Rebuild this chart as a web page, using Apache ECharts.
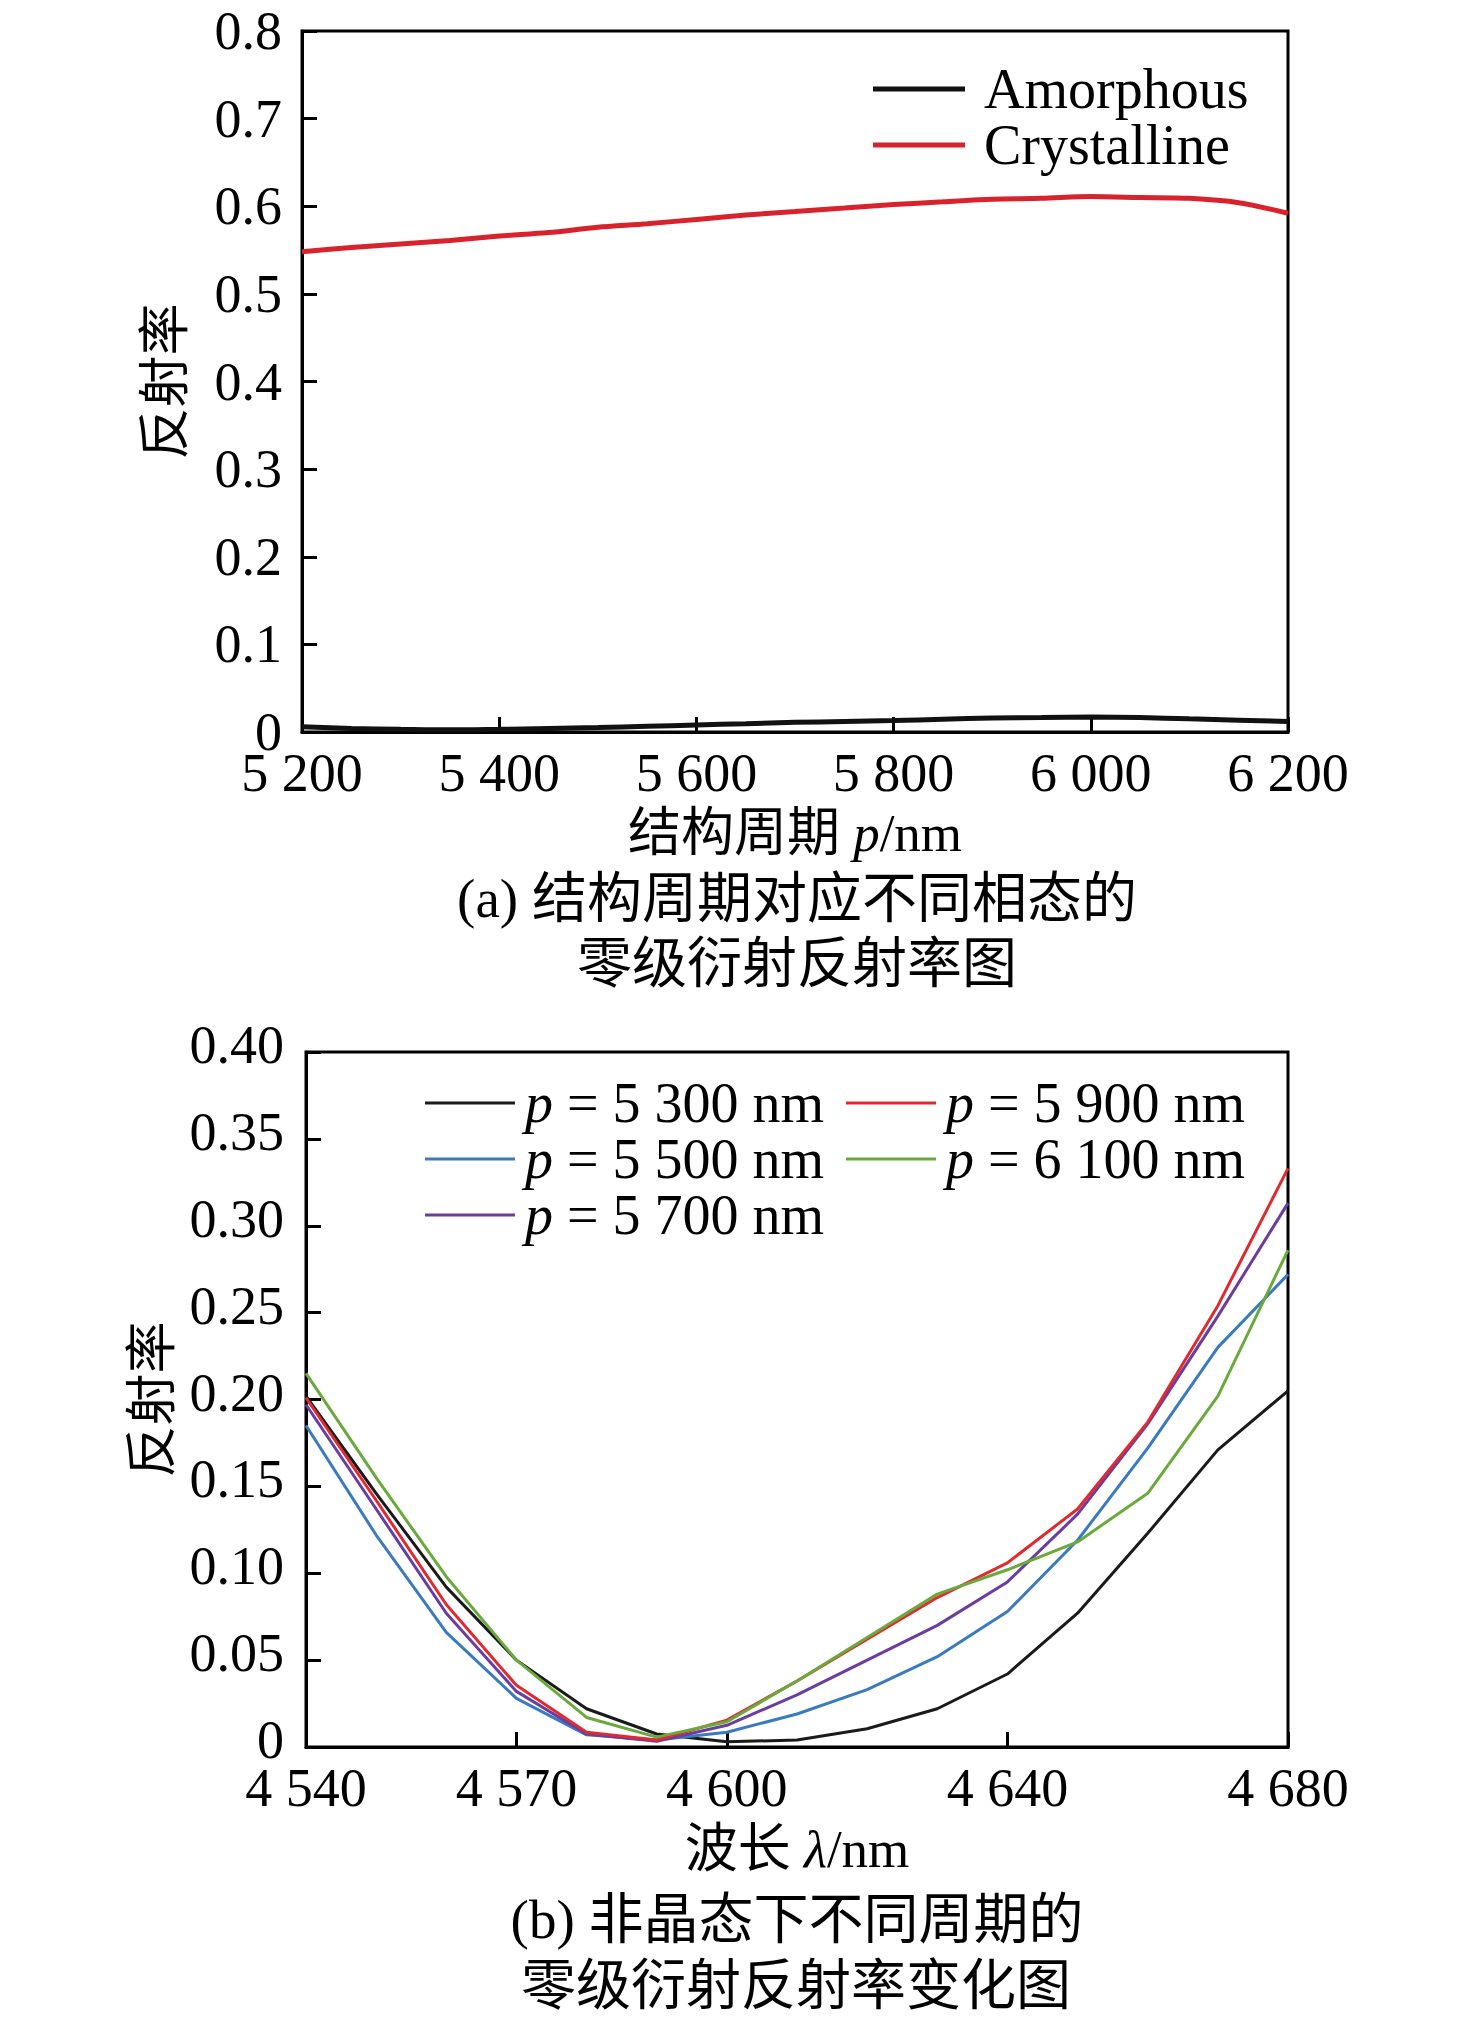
<!DOCTYPE html>
<html>
<head>
<meta charset="utf-8">
<script src="https://cdn.jsdelivr.net/npm/echarts@6/dist/echarts.min.js"></script>
<style>
html,body{margin:0;padding:0;background:#fff;}
#chart{width:1476px;height:2017px;}
</style>
</head>
<body>
<div id="chart"></div>
<script>
// ---------- Data: chart (a) ----------
const periodA = [5200,5250,5300,5350,5400,5450,5500,5550,5600,5650,5700,5750,5800,5850,5900,5950,6000,6050,6100,6150,6200];
const amorphous = [0.006,0.004,0.003,0.0025,0.003,0.004,0.005,0.0065,0.008,0.0095,0.011,0.012,0.013,0.0145,0.016,0.0165,0.017,0.0165,0.015,0.0135,0.012];
const crystalline = [0.548,0.553,0.557,0.561,0.566,0.570,0.576,0.580,0.585,0.590,0.594,0.598,0.602,0.605,0.608,0.609,0.611,0.610,0.609,0.604,0.592];

// ---------- Data: chart (b) ----------
const wavelengthB = [4540,4550,4560,4570,4580,4590,4600,4610,4620,4630,4640,4650,4660,4670,4680];
const p5300 = [0.202,0.146,0.092,0.050,0.022,0.0075,0.003,0.004,0.0105,0.022,0.042,0.077,0.123,0.171,0.205];
const p5500 = [0.185,0.122,0.066,0.028,0.007,0.004,0.0085,0.019,0.033,0.052,0.078,0.119,0.172,0.230,0.272];
const p5700 = [0.197,0.137,0.077,0.032,0.0075,0.0033,0.0125,0.030,0.050,0.070,0.095,0.134,0.186,0.248,0.313];
const p5900 = [0.201,0.142,0.082,0.0355,0.0085,0.004,0.0155,0.038,0.062,0.086,0.106,0.137,0.187,0.254,0.333];
const p6100 = [0.215,0.155,0.098,0.050,0.017,0.0057,0.0145,0.038,0.063,0.088,0.102,0.118,0.146,0.202,0.286];
const xTicksB = [4540,4570,4600,4640,4680];

const FONT = "'Liberation Serif','Noto Sans CJK SC',serif";
const pairs = (xs, ys) => xs.map((x, i) => [x, ys[i]]);
const thou = v => { const s = String(Math.round(v)); return s.length > 3 ? s.slice(0, s.length-3) + ' ' + s.slice(-3) : s; };

const chart = echarts.init(document.getElementById('chart'), null, {renderer: 'svg'});

const axisLineStyle = {show: true, onZero: false, lineStyle: {color: '#000', width: 3}};
const tickStyle = {show: true, inside: true, length: 15, lineStyle: {color: '#000', width: 3}};
const labelBase = {color: '#000', fontFamily: FONT, fontSize: 54};

const legendB = (names, left) => ({
  data: names, orient: 'vertical', left: left, top: 1075, padding: 0,
  icon: 'rect', itemWidth: 90, itemHeight: 3, itemGap: 0, selectedMode: false,
  formatter: n => '{i|p}{t|' + n.slice(1) + '}',
  textStyle: {color: '#000', rich: {
    i: {fontFamily: FONT, fontSize: 56, fontStyle: 'italic', color: '#000', lineHeight: 52, padding: [0, 0, 0, 5]},
    t: {fontFamily: FONT, fontSize: 56, color: '#000', lineHeight: 52}
  }}
});

const option = {
  animation: false,
  backgroundColor: '#fff',
  grid: [
    {left: 302, top: 31, width: 986, height: 701, show: true, borderColor: '#000', borderWidth: 3, outerBoundsMode: 'none', containLabel: false},
    {left: 306, top: 1052, width: 982, height: 695, show: true, borderColor: '#000', borderWidth: 3, outerBoundsMode: 'none', containLabel: false}
  ],
  xAxis: [
    {
      type: 'value', gridIndex: 0, min: 5200, max: 6200, interval: 200,
      axisLine: axisLineStyle, axisTick: tickStyle, splitLine: {show: false},
      axisLabel: Object.assign({}, labelBase, {margin: 14, formatter: v => thou(v)}),
      name: '{c|结构周期 }{i|p}{c|/nm}', nameLocation: 'middle', nameGap: 75,
      nameTextStyle: {rich: {
        c: {fontFamily: FONT, fontSize: 53, color: '#000', lineHeight: 52},
        i: {fontFamily: FONT, fontSize: 53, fontStyle: 'italic', color: '#000', lineHeight: 52}
      }}
    },
    {
      type: 'value', gridIndex: 1, min: 4540, max: 4680,
      axisLine: axisLineStyle,
      axisTick: Object.assign({}, tickStyle, {customValues: xTicksB}),
      splitLine: {show: false},
      axisLabel: Object.assign({}, labelBase, {margin: 14, customValues: xTicksB, formatter: v => thou(v)}),
      name: '{c|波长 }{i|λ}{c|/nm}', nameLocation: 'middle', nameGap: 76,
      nameTextStyle: {rich: {
        c: {fontFamily: FONT, fontSize: 53, color: '#000', lineHeight: 52},
        i: {fontFamily: FONT, fontSize: 53, fontStyle: 'italic', color: '#000', lineHeight: 52}
      }}
    }
  ],
  yAxis: [
    {
      type: 'value', gridIndex: 0, min: 0, max: 0.8, interval: 0.1,
      axisLine: axisLineStyle, axisTick: tickStyle, splitLine: {show: false},
      axisLabel: Object.assign({}, labelBase, {margin: 20, formatter: v => v === 0 ? '0' : v.toFixed(1)}),
      name: '反射率', nameLocation: 'middle', nameGap: 111, nameRotate: 90,
      nameTextStyle: {fontFamily: FONT, fontSize: 52, color: '#000'}
    },
    {
      type: 'value', gridIndex: 1, min: 0, max: 0.4, interval: 0.05,
      axisLine: axisLineStyle, axisTick: tickStyle, splitLine: {show: false},
      axisLabel: {margin: 22, formatter: v => '{n|' + (v === 0 ? '0' : v.toFixed(2)) + '}',
        rich: {n: {color: '#000', fontFamily: FONT, fontSize: 54, padding: [0, 0, 14, 0]}}},
      name: '反射率', nameLocation: 'middle', nameGap: 128, nameRotate: 90,
      nameTextStyle: {fontFamily: FONT, fontSize: 52, color: '#000'}
    }
  ],
  legend: [
    {
      data: ['Amorphous', 'Crystalline'], orient: 'vertical', left: 873, top: 61, padding: 0,
      icon: 'rect', itemWidth: 92, itemHeight: 5, itemGap: 0, selectedMode: false,
      formatter: n => '{t|' + n + '}',
      textStyle: {color: '#000', rich: {
        t: {fontFamily: FONT, fontSize: 56, color: '#000', lineHeight: 54, padding: [0, 0, 0, 14]}
      }}
    },
    legendB(['p = 5 300 nm', 'p = 5 500 nm', 'p = 5 700 nm'], 425),
    legendB(['p = 5 900 nm', 'p = 6 100 nm'], 846)
  ],
  series: [
    {name: 'Amorphous', type: 'line', xAxisIndex: 0, yAxisIndex: 0, data: pairs(periodA, amorphous),
      symbol: 'none', smooth: 0.3, color: '#111111', lineStyle: {width: 5, color: '#111111'}},
    {name: 'Crystalline', type: 'line', xAxisIndex: 0, yAxisIndex: 0, data: pairs(periodA, crystalline),
      symbol: 'none', smooth: 0.3, color: '#d8232c', lineStyle: {width: 5, color: '#d8232c'}},
    {name: 'p = 5 300 nm', type: 'line', xAxisIndex: 1, yAxisIndex: 1, data: pairs(wavelengthB, p5300),
      symbol: 'none', color: '#1a1a1a', lineStyle: {width: 3, color: '#1a1a1a'}},
    {name: 'p = 5 500 nm', type: 'line', xAxisIndex: 1, yAxisIndex: 1, data: pairs(wavelengthB, p5500),
      symbol: 'none', color: '#3a7bbf', lineStyle: {width: 3, color: '#3a7bbf'}},
    {name: 'p = 5 700 nm', type: 'line', xAxisIndex: 1, yAxisIndex: 1, data: pairs(wavelengthB, p5700),
      symbol: 'none', color: '#6a3d9e', lineStyle: {width: 3, color: '#6a3d9e'}},
    {name: 'p = 5 900 nm', type: 'line', xAxisIndex: 1, yAxisIndex: 1, data: pairs(wavelengthB, p5900),
      symbol: 'none', color: '#e02a30', lineStyle: {width: 3, color: '#e02a30'}},
    {name: 'p = 6 100 nm', type: 'line', xAxisIndex: 1, yAxisIndex: 1, data: pairs(wavelengthB, p6100),
      symbol: 'none', color: '#6aaa3c', lineStyle: {width: 3, color: '#6aaa3c'}}
  ],
  graphic: [
    {type: 'text', x: 797, y: 898, style: {text: '(a) 结构周期对应不同相态的', fontFamily: FONT, fontSize: 55, fill: '#000', align: 'center', verticalAlign: 'middle'}},
    {type: 'text', x: 797, y: 963, style: {text: '零级衍射反射率图', fontFamily: FONT, fontSize: 55, fill: '#000', align: 'center', verticalAlign: 'middle'}},
    {type: 'text', x: 797, y: 1919, style: {text: '(b) 非晶态下不同周期的', fontFamily: FONT, fontSize: 55, fill: '#000', align: 'center', verticalAlign: 'middle'}},
    {type: 'text', x: 796, y: 1985, style: {text: '零级衍射反射率变化图', fontFamily: FONT, fontSize: 55, fill: '#000', align: 'center', verticalAlign: 'middle'}}
  ]
};
chart.setOption(option);
</script>
</body>
</html>
